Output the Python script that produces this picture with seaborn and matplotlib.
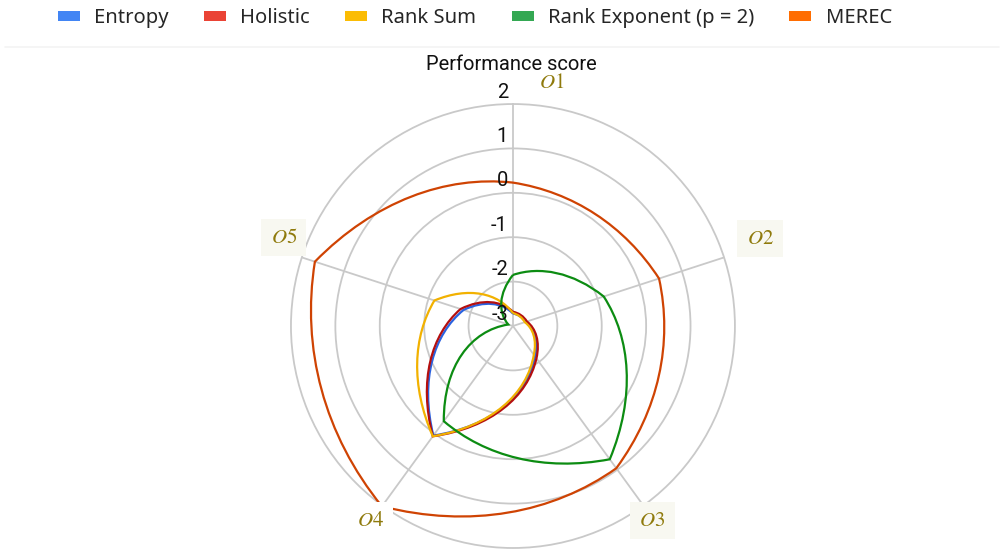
import numpy as np
import pandas as pd
import seaborn as sns
import matplotlib.pyplot as plt
from matplotlib.patches import Patch, PathPatch
from matplotlib.path import Path
from matplotlib.lines import Line2D

# values
options = ['O1', 'O2', 'O3', 'O4', 'O5']
option_labels = [r'$O\mathit{1}$', r'$O\mathit{2}$', r'$O\mathit{3}$', r'$O\mathit{4}$', r'$O\mathit{5}$']
methods = ['Entropy', 'Holistic', 'Rank Sum', 'Rank Exponent (p = 2)', 'MEREC']
entropy = [-2.72, -2.70, -2.15, 0.05, -1.83]
holistic = [-2.68, -2.67, -2.10, 0.07, -1.76]
rank_sum = [-2.71, -2.72, -2.20, 0.07, -1.14]
rank_exponent = [-1.85, -0.85, 0.71, -0.35, -2.89]
merec = [0.23, 0.46, 0.96, 2.02, 1.69]
r_ticks = [-3, -2, -1, 0, 1, 2]

legend_colors = ['#4285f4', '#ea4335', '#fbbc04', '#34a853', '#ff6d01']
line_colors = ['#2a62e0', '#b40f0f', '#f2b100', '#0c8c12', '#cf4303']

sns.set_style('white')
plt.rcParams['font.family'] = ['Roboto', 'DejaVu Sans']
plt.rcParams['mathtext.fontset'] = 'stix'

# long table, closing each loop back at O1
theta = np.linspace(0, 2 * np.pi, len(options) + 1)
rows = []
for name, vals in zip(methods, [entropy, holistic, rank_sum, rank_exponent, merec]):
    for t, v in zip(theta, vals + vals[:1]):
        rows.append({'method': name, 'theta': t, 'score': v})
df = pd.DataFrame(rows)

fig = plt.figure(figsize=(10.04, 5.5), dpi=100)
ax = fig.add_axes([0.2898, 0.0036, 0.4422, 0.8073], projection='polar')
ax.set_theta_zero_location('N')
ax.set_theta_direction(-1)

sns.lineplot(data=df, x='theta', y='score', hue='method', hue_order=methods,
             palette=dict(zip(methods, line_colors)), sort=False, estimator=None,
             legend=False, linewidth=1.6, ax=ax)


def polar_bezier(t, r):
    # each straight (theta, r) segment as a cubic whose control points are
    # mapped by the polar transform -> gently bowed curves with corners
    verts = [(t[0], r[0])]
    codes = [Path.MOVETO]
    for i in range(len(t) - 1):
        dt, dr = t[i + 1] - t[i], r[i + 1] - r[i]
        verts += [(t[i] + dt / 3, r[i] + dr / 3),
                  (t[i] + 2 * dt / 3, r[i] + 2 * dr / 3),
                  (t[i + 1], r[i + 1])]
        codes += [Path.CURVE4] * 3
    return Path(verts, codes)


for line in list(ax.lines):
    t, r = line.get_data()
    ax.add_patch(PathPatch(polar_bezier(np.asarray(t), np.asarray(r)), fill=False,
                           ec=line.get_color(), lw=line.get_linewidth(),
                           zorder=3, clip_on=False))
    line.remove()

ax.set_ylim(-3, 2)
ax.set_yticks(r_ticks[1:-1])
ax.set_yticklabels([])
ax.set_xticks(theta[:-1])
ax.set_xticklabels([])
ax.set_xlabel('')
ax.set_ylabel('')
ax.grid(True, color='#c9c9c9', linewidth=1.3)
ax.spines['polar'].set_color('#c9c9c9')
ax.spines['polar'].set_linewidth(1.3)

# radial tick labels along the O1 spoke
for v in r_ticks:
    ax.annotate(str(v), xy=(0, v), xytext=(-5, 12), textcoords='offset pixels',
                ha='right', va='center', fontsize=14.5, color='#111111',
                annotation_clip=False, zorder=5)

fig.text(0.509, 1 - 65 / 550, 'Performance score', ha='center', va='center',
         fontsize=14.5, color='#111111')

# option labels just outside the outer ring
label_offsets = [(39, 22), (36, 19), (9, -15), (-12, -15), (-18, 20)]
label_bg = ['white', '#f8f8f1', '#f8f8f1', 'white', '#f8f8f1']
for t, lab, off, bg in zip(theta[:-1], option_labels, label_offsets, label_bg):
    ax.annotate(lab, xy=(t, 2), xytext=off, textcoords='offset pixels',
                ha='center', va='center', fontsize=15, color='#8f7a0c',
                annotation_clip=False, zorder=6,
                bbox=dict(boxstyle='square,pad=0.45', fc=bg, ec='none'))

handles = [Patch(facecolor=c, edgecolor='none', label=m)
           for m, c in zip(methods, legend_colors)]
fig.legend(handles=handles, loc='center', bbox_to_anchor=(0.473, 0.967), ncol=5,
           frameon=False, prop={'family': 'Noto Sans', 'size': 14.5},
           handlelength=1.1, handleheight=0.4, handletextpad=0.7,
           columnspacing=1.75)

fig.add_artist(Line2D([0.005, 0.995], [0.915, 0.915], transform=fig.transFigure,
                      color='#f3f3f3', linewidth=1.2))

fig.savefig('out.png', dpi=100)
